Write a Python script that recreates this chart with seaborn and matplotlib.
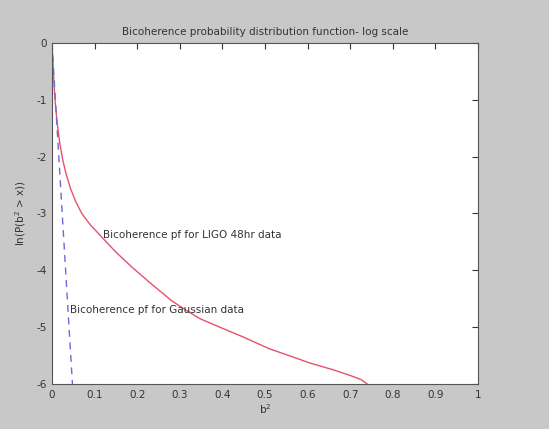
import matplotlib
matplotlib.use("Agg")
import matplotlib.pyplot as plt
import seaborn as sns
import pandas as pd

# Empirical bicoherence tail probability for the LIGO 48hr record
ligo_b2 = [0, 0.003, 0.007, 0.012, 0.018, 0.025, 0.033, 0.043, 0.055, 0.070,
           0.090, 0.115, 0.150, 0.19, 0.235, 0.28, 0.31, 0.347, 0.40, 0.448,
           0.51, 0.56, 0.605, 0.66, 0.70, 0.725, 0.74]
ligo_lnp = [0, -0.5, -1.0, -1.4, -1.75, -2.05, -2.3, -2.55, -2.78, -3.0,
            -3.2, -3.40, -3.68, -3.96, -4.25, -4.53, -4.68, -4.85, -5.02, -5.17,
            -5.38, -5.51, -5.63, -5.75, -5.85, -5.92, -6.0]

# Same quantity for Gaussian noise
gauss_b2 = [0, 0.008, 0.016, 0.024, 0.032, 0.040, 0.048]
gauss_lnp = [0, -1, -2, -3, -4, -5, -6]

x_ticks = [0, 0.1, 0.2, 0.3, 0.4, 0.5, 0.6, 0.7, 0.8, 0.9, 1]
x_tick_labels = ["0", "0.1", "0.2", "0.3", "0.4", "0.5", "0.6", "0.7", "0.8", "0.9", "1"]
y_ticks = [-6, -5, -4, -3, -2, -1, 0]
y_tick_labels = ["-6", "-5", "-4", "-3", "-2", "-1", "0"]

title = "Bicoherence probability distribution function- log scale"
ligo_label = "Bicoherence pf for LIGO 48hr data"
gauss_label = "Bicoherence pf for Gaussian data"

sns.set_theme(style="white")
plt.rcParams["font.family"] = ["DejaVu Sans"]

fig = plt.figure(figsize=(5.49, 4.29), dpi=100, facecolor="#c8c8c8")
ax = fig.add_axes([0.0947, 0.1049, 0.776, 0.795])
ax.set_facecolor("white")

ligo_df = pd.DataFrame({"b2": ligo_b2, "lnp": ligo_lnp})
gauss_df = pd.DataFrame({"b2": gauss_b2, "lnp": gauss_lnp})

sns.lineplot(data=ligo_df, x="b2", y="lnp", ax=ax, color="#e8506a",
             linewidth=1.0, sort=False)
sns.lineplot(data=gauss_df, x="b2", y="lnp", ax=ax, color="#6a6ae0",
             linewidth=1.0, linestyle=(0, (5, 4)), sort=False)

ax.text(0.12, -3.38, ligo_label, fontsize=7.5, color="#333333", va="center")
ax.text(0.042, -4.70, gauss_label, fontsize=7.5, color="#333333", va="center")

ax.set_xlim(0, 1)
ax.set_ylim(-6, 0)
ax.set_xticks(x_ticks)
ax.set_xticklabels(x_tick_labels)
ax.set_yticks(y_ticks)
ax.set_yticklabels(y_tick_labels)
ax.tick_params(axis="both", which="both", direction="in", length=4, width=0.8,
               top=True, right=True, labelsize=7.5, colors="#333333",
               pad=4)
for side in ax.spines.values():
    side.set_visible(True)
    side.set_color("#555555")
    side.set_linewidth(0.8)

ax.set_title(title, fontsize=7.5, color="#333333", pad=6)
ax.set_xlabel("b$^2$", fontsize=7.5, color="#333333", labelpad=2)
ax.set_ylabel("ln(P(b$^2$ > x))", fontsize=7.5, color="#333333", labelpad=6)

fig.savefig("out.png", dpi=100, facecolor=fig.get_facecolor())
